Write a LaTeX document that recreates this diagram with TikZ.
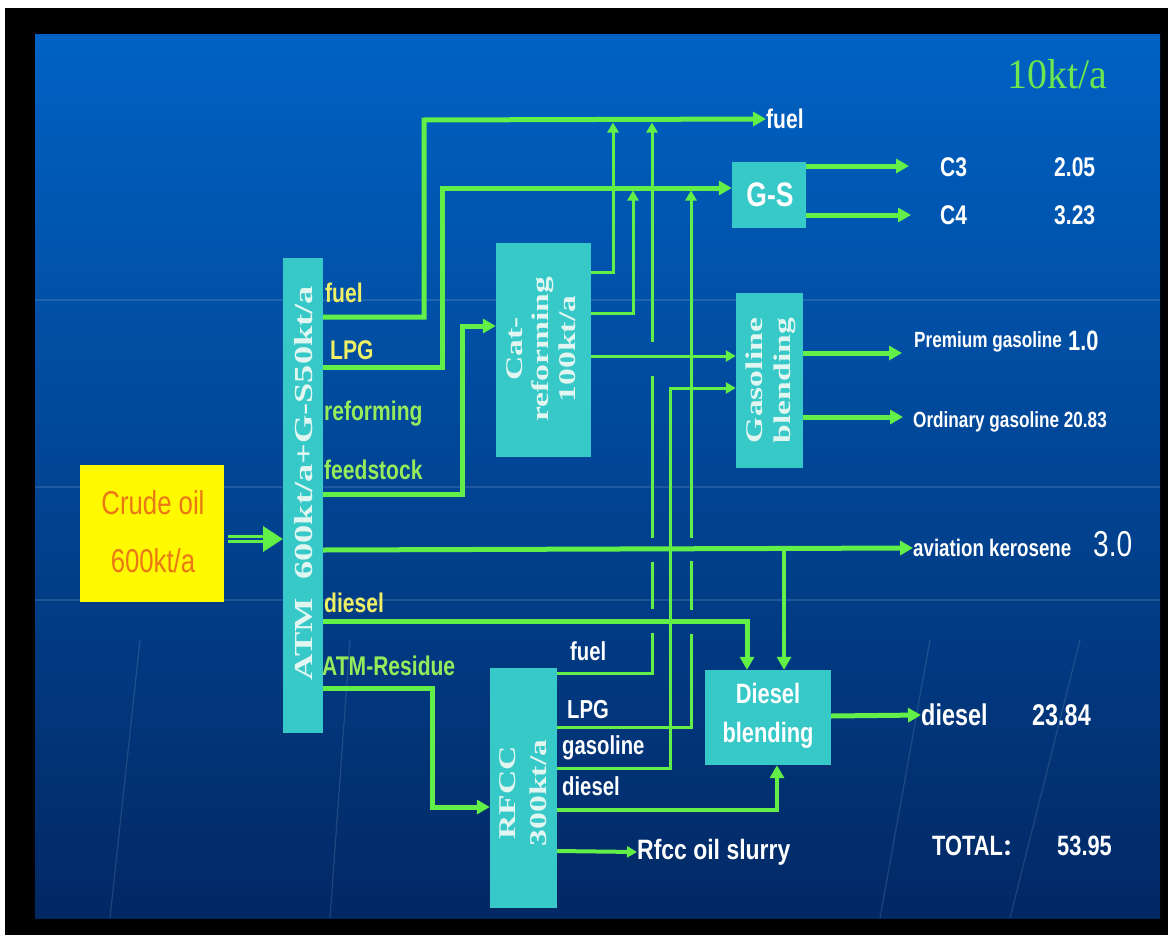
\documentclass[tikz,border=0pt]{standalone}
\usepackage{fontspec}
\usepackage{graphicx}
\setmainfont{Liberation Sans}
\newfontfamily\nar[FakeStretch=0.78]{Liberation Sans}
\newfontfamily\ser{Liberation Serif}
\newfontfamily\cjk{Noto Sans CJK SC}
\usetikzlibrary{arrows.meta}
\definecolor{bgtop}{RGB}{0,98,196}
\definecolor{bgmid}{RGB}{4,64,156}
\definecolor{bgbot}{RGB}{2,40,100}
\definecolor{lgreen}{RGB}{98,240,72}
\definecolor{boxc}{RGB}{55,200,200}
\definecolor{boxtxt}{RGB}{225,246,240}
\definecolor{ylab}{RGB}{240,240,100}
\definecolor{glab}{RGB}{150,235,90}
\definecolor{crudeor}{RGB}{235,120,20}
\definecolor{crudey}{RGB}{255,250,0}
\definecolor{ktgreen}{RGB}{110,230,80}
\begin{document}
\begin{tikzpicture}[x=1pt,y=-1pt,
  unit/.style={fill=boxc, draw=none, inner sep=0pt},
  flow/.style={draw=lgreen, line width=5pt},
  flowm/.style={draw=lgreen, line width=4pt},
  flowt/.style={draw=lgreen, line width=3pt},
  arr/.style={-{Triangle[length=13pt,width=14pt]}},
  arrs/.style={-{Triangle[length=10pt,width=11pt]}},
  vtext/.style={text=boxtxt, inner sep=0pt, font=\ser\bfseries\fontsize{24}{27}\selectfont},
  lab/.style={inner sep=0pt, anchor=west, font=\nar\bfseries\fontsize{27}{30}\selectfont},
  wlab/.style={lab, text=white},
  ylabel/.style={lab, text=ylab},
  glabel/.style={lab, text=glab}]
\useasboundingbox (0,0) rectangle (1174,942);
\fill[white] (0,0) rectangle (1174,942);
\fill[black] (5,8) rectangle (1168,935);
\shade[top color=bgtop, middle color=bgmid, bottom color=bgbot] (35,35) rectangle (1160,918);
% faint template lines
\begin{scope}[draw=white, opacity=0.12, line width=1.2pt]
  \draw (35,300) -- (1160,300);
  \draw (35,487) -- (1160,487);
  \draw (35,600) -- (1160,600);
  \draw (110,918) -- (140,640);
  \draw (330,918) -- (350,640);
  \draw (880,918) -- (930,640);
  \draw (1010,918) -- (1080,640);
\end{scope}

% boxes
\node[fill=crudey, minimum width=144pt, minimum height=137pt, inner sep=0pt] (crude) at (152,533.5) {};
\node[text=crudeor, inner sep=0pt, align=center, font=\nar\fontsize{33}{58}\selectfont] (crudeT) at (153,532) {Crude oil\\600kt/a};
\node[unit, minimum width=40pt, minimum height=475pt] (atm) at (303,495.5) {};
\node[vtext] (atmT) at (303.5,483) {\rotatebox{90}{\fontsize{26}{28}\selectfont\scalebox{1.4}[1]{ATM\ \ 600kt/a+G-S50kt/a}}};
\node[unit, minimum width=95pt, minimum height=214pt] (cat) at (543.5,350) {};
\node[vtext] (catT) at (543.5,349) {\rotatebox{90}{\scalebox{1.4}[1]{\renewcommand\arraystretch{0.98}\begin{tabular}{@{}c@{}}Cat-\\reforming\\100kt/a\end{tabular}}}};
\node[unit, minimum width=74pt, minimum height=66pt] (gs) at (769,195) {};
\node[text=white, inner sep=0pt, font=\nar\bfseries\fontsize{34}{36}\selectfont] (gsT) at (770,195) {G-S};
\node[unit, minimum width=67pt, minimum height=175pt] (gb) at (769.5,380.5) {};
\node[vtext] (gbT) at (771,380.5) {\rotatebox{90}{\scalebox{1.4}[1]{\renewcommand\arraystretch{1.05}\begin{tabular}{@{}c@{}}Gasoline\\blending\end{tabular}}}};
\node[unit, minimum width=126pt, minimum height=95pt] (db) at (768,717.5) {};
\node[text=white, inner sep=0pt, align=center, font=\nar\bfseries\fontsize{28}{39}\selectfont] (dbT) at (768,716) {Diesel\\blending};
\node[unit, minimum width=67pt, minimum height=240pt] (rfcc) at (523.5,788) {};
\node[vtext] (rfccT) at (525,793) {\rotatebox{90}{\scalebox{1.4}[1]{\renewcommand\arraystretch{1.15}\begin{tabular}{@{}c@{}}RFCC\\300kt/a\end{tabular}}}};

% ATM side labels
\node[ylabel] (lfuel) at (325,293) {fuel};
\node[ylabel] (llpg) at (330,350) {LPG};
\node[glabel] (lref) at (324,414) {reforming};
\node[glabel] (lfeed) at (324,470) {feedstock};
\node[ylabel] (ldie) at (324,603) {diesel};
\node[glabel] (lres) at (322,666) {ATM-Residue};

% RFCC side labels
\node[wlab, font=\nar\bfseries\fontsize{26}{28}\selectfont] (rfuel) at (570,651) {fuel};
\node[wlab, font=\nar\bfseries\fontsize{26}{28}\selectfont] (rlpg) at (567,710) {LPG};
\node[wlab, font=\nar\bfseries\fontsize{26}{28}\selectfont] (rgas) at (562,748) {gasoline};
\node[wlab, font=\nar\bfseries\fontsize{26}{28}\selectfont] (rdie) at (562,786) {diesel};

% outlet labels
\node[wlab] (fuelT) at (766,119) {fuel};
\node[text=ktgreen, inner sep=0pt, anchor=west, font=\ser\fontsize{42}{44}\selectfont\addfontfeature{FakeStretch=0.95}] (kt) at (1007,74) {10kt/a};
\node[wlab] (c3) at (940,167) {C3};
\node[wlab] (c3v) at (1054,167) {2.05};
\node[wlab] (c4) at (940,215) {C4};
\node[wlab] (c4v) at (1054,215) {3.23};
\node[wlab, font=\nar\bfseries\fontsize{22}{24}\selectfont] (pg) at (914,342) {Premium gasoline};
\node[wlab, font=\nar\bfseries\fontsize{28}{30}\selectfont] (pgv) at (1068,341) {1.0};
\node[wlab, font=\nar\bfseries\fontsize{22}{24}\selectfont] (og) at (913,422) {Ordinary gasoline 20.83};
\node[wlab, font=\nar\bfseries\fontsize{24}{26}\selectfont] (avT) at (913,548) {aviation kerosene};
\node[wlab, font=\nar\fontsize{36}{38}\selectfont] (avv) at (1093,544) {3.0};
\node[wlab, font=\nar\bfseries\fontsize{30}{32}\selectfont] (dieT) at (921,715) {diesel};
\node[wlab, font=\nar\bfseries\fontsize{30}{32}\selectfont] (diev) at (1032,715) {23.84};
\node[wlab, font=\nar\bfseries\fontsize{28}{30}\selectfont] (tot) at (932,846) {TOTAL{\cjk\fontsize{22}{24}\selectfont ：}};
\node[wlab, font=\nar\bfseries\fontsize{28}{30}\selectfont] (totv) at (1057,846) {53.95};
\node[wlab, font=\nar\bfseries\fontsize{28}{30}\selectfont\addfontfeature{FakeStretch=0.82}] (slT) at (637,852) {Rfcc oil slurry};

% arrow end coordinates
\coordinate (c3a) at (909,166);
\coordinate (c4a) at (911,215);
\coordinate (pga) at (902,353);
\coordinate (oga) at (903,417);

% crude -> ATM double arrow
\draw[draw=lgreen, line width=3pt, double=bgmid, double distance=1.6pt] (crude.east |- 0,539) ++(4,0) -- (265,539);
\fill[lgreen] (atm.west |- 0,539) -- (263,526) -- (263,552) -- cycle;

% ATM outputs
\draw[flow,arr] (atm.east |- 0,317) -- (424,317) -- (424,120) -- (fuelT.west);
\draw[flow,arr] (atm.east |- 0,367) -- (442,367) -- (442,188) -- (gs.west |- 0,188);
\draw[flow,arr] (atm.east |- 0,494) -- (462,494) -- (462,326) -- (cat.west |- 0,326);
\draw[flow,arr] (atm.east |- 0,550) -- (avT.west);
\draw[flow,arr] (atm.east |- 0,621) -- (747,621) -- (db.north -| 747,0);
\draw[flow,arr] (atm.east |- 0,688) -- (432,688) -- (432,807) -- (rfcc.west |- 0,807);

% cat-reforming outputs
\draw[flowt,arrs] (cat.east |- 0,272) -- (613,272) -- (613,122.5);
\draw[flowt,arrs] (cat.east |- 0,313) -- (633,313) -- (633,190.5);
\draw[flowt,arrs] (cat.east |- 0,356) -- (gb.west |- 0,356);

% RFCC outputs
\draw[flowt] (rfcc.east |- 0,673) -- (652,673) -- (652,633);
\draw[flowt] (652,609) -- (652,562);
\draw[flowt] (652,538) -- (652,376);
\draw[flowt,arrs] (652,342) -- (652,122.5);
\draw[flowt] (rfcc.east |- 0,727) -- (691,727) -- (691,634);
\draw[flowt] (691,610) -- (691,561);
\draw[flowt,arrs] (691,538) -- (691,190.5);
\draw[flowt,arrs] (rfcc.east |- 0,768) -- (670,768) -- (670,388) -- (gb.west |- 0,388);
\draw[flowm,arr] (rfcc.east |- 0,810) -- (777,810) -- (db.south -| 777,0);
\draw[flowm,arrs] (rfcc.east |- 0,851) -- (slT.west);
\draw[flowm,arr] (784,550) -- (db.north -| 784,0);

% blending and G-S outputs
\draw[flow,arr] (db.east |- 0,716) -- (dieT.west);
\draw[flow,arr] (gs.east |- 0,166) -- (c3a);
\draw[flow,arr] (gs.east |- 0,215) -- (c4a);
\draw[flow,arr] (gb.east |- 0,353) -- (pga);
\draw[flow,arr] (gb.east |- 0,417) -- (oga);
\end{tikzpicture}
\end{document}
